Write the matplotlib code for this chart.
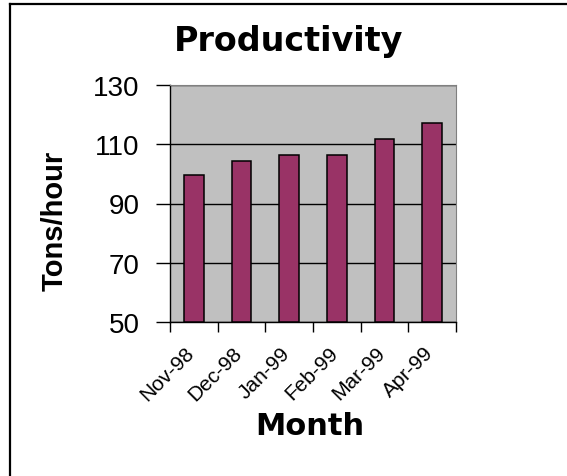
import matplotlib
matplotlib.use("Agg")
import matplotlib.pyplot as plt
import matplotlib.transforms as mtransforms
from matplotlib.lines import Line2D

months = ["Nov-98", "Dec-98", "Jan-99", "Feb-99", "Mar-99", "Apr-99"]
tons_per_hour = [99.5, 104.3, 106.5, 106.5, 111.8, 117.3]
y_ticks = [50, 70, 90, 110, 130]

W, H = 567, 477
fig = plt.figure(figsize=(W / 100, H / 100), dpi=100)
fig.patch.set_facecolor("white")

ax = fig.add_axes([170 / W, 1 - 323 / H, (456 - 170) / W, (323 - 86) / H])
ax.set_facecolor("#C0C0C0")

x = list(range(len(months)))
ax.bar(x, [v - 50 for v in tons_per_hour], bottom=50, width=0.41,
       color="#993366", edgecolor="black", linewidth=1.1, zorder=3)

ax.set_xlim(-0.5, len(months) - 0.5)
ax.set_ylim(50, 130)
ax.set_yticks(y_ticks)
ax.set_yticklabels([str(t) for t in y_ticks], fontsize=20, family="Liberation Sans")
ax.yaxis.grid(True, color="black", linewidth=1.0, zorder=1)
ax.set_axisbelow(True)

ax.set_xticks(x)
ax.set_xticks([i - 0.5 for i in range(len(months) + 1)], minor=True)
ax.tick_params(axis="x", which="major", length=0, pad=15)
ax.tick_params(axis="x", which="minor", length=7, width=1.0, direction="out", color="black")
ax.tick_params(axis="y", which="major", length=10, width=1.0, direction="out", pad=12, color="black")

labels = ax.set_xticklabels(months, fontsize=15, family="Liberation Sans",
                            rotation=45, ha="right", va="top", rotation_mode="anchor")
offset = mtransforms.ScaledTranslation(-9 / 100, 0, fig.dpi_scale_trans)
for lab in labels:
    lab.set_transform(lab.get_transform() + offset)

for side in ["left", "bottom"]:
    ax.spines[side].set_color("black")
    ax.spines[side].set_linewidth(1.0)
for side in ["top", "right"]:
    ax.spines[side].set_color("#808080")
    ax.spines[side].set_linewidth(0.8)

fig.text(289 / W, 1 - 42 / H, "Productivity", fontsize=24, fontweight="bold",
         family="DejaVu Sans", ha="center", va="center")
fig.text(55 / W, 1 - 221 / H, "Tons/hour", fontsize=21, fontweight="bold",
         family="Liberation Sans", rotation=90, ha="center", va="center")
fig.text(310 / W, 1 - 427 / H, "Month", fontsize=22, fontweight="bold",
         family="DejaVu Sans", ha="center", va="center")

# outer frame lines (left and top)
fig.add_artist(Line2D([10 / W, 10 / W], [0, 1 - 5 / H], transform=fig.transFigure,
                      color="black", linewidth=1.6))
fig.add_artist(Line2D([10 / W, 1], [1 - 5 / H, 1 - 5 / H], transform=fig.transFigure,
                      color="black", linewidth=1.6))

fig.savefig("out.png", dpi=100)
